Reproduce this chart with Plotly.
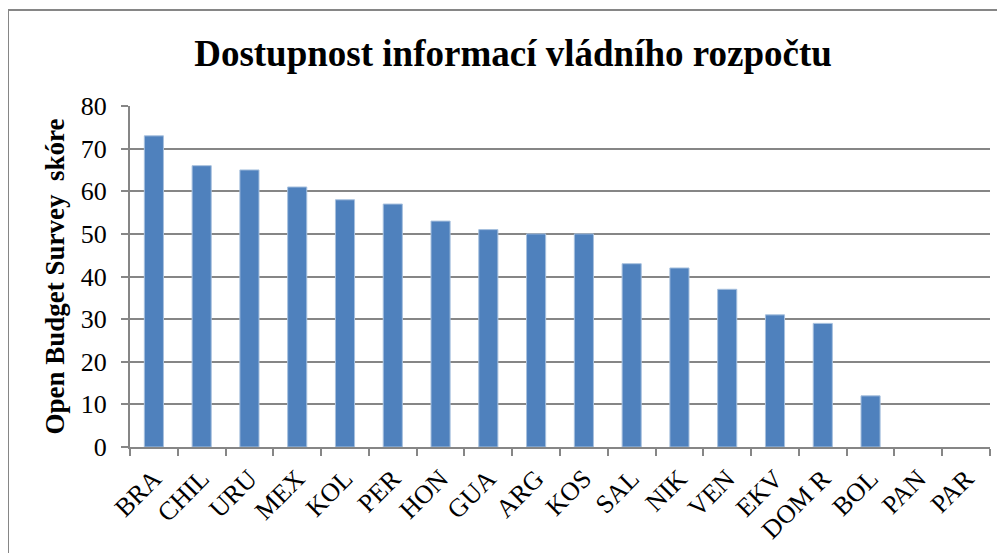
import plotly.graph_objects as go

# Open Budget Survey scores by country
countries = ["BRA", "CHIL", "URU", "MEX", "KOL", "PER", "HON", "GUA", "ARG",
             "KOS", "SAL", "NIK", "VEN", "EKV", "DOM R", "BOL", "PAN", "PAR"]
scores = [73, 66, 65, 61, 58, 57, 53, 51, 50, 50, 43, 42, 37, 31, 29, 12, 0, 0]
y_ticks = [0, 10, 20, 30, 40, 50, 60, 70, 80]

# page body has an 8px margin, so the figure is drawn 8px in from the corner
OFF = 8
W, H = 1005 - OFF, 553 - OFF
ML, MR, MT, MB = 122, 15, 98, 106
pw, ph = W - ML - MR, H - MT - MB


def px_x(x):
    # screen x -> paper coords
    return (x - OFF - ML) / pw


def px_y(y):
    # screen y -> paper coords
    return (H - MB - (y - OFF)) / ph


serif = "Liberation Serif, Times New Roman, serif"
grey = "#868686"

# no outline on empty bars, Excel draws nothing there
outline = [1 if s > 0 else 0 for s in scores]

fig = go.Figure(go.Bar(
    x=countries, y=scores,
    marker=dict(color="#4F81BD", line=dict(color="#A7C0DE", width=outline)),
))

fig.update_layout(
    width=W, height=H,
    margin=dict(l=ML, r=MR, t=MT, b=MB),
    paper_bgcolor="white", plot_bgcolor="white",
    bargap=0.6,
    showlegend=False,
    font=dict(family=serif, color="black"),
    title=dict(text="<b>Dostupnost informací vládního rozpočtu</b>",
               x=px_x(513), xref="paper", xanchor="center",
               y=1 - (53 - OFF) / H, yanchor="middle",
               font=dict(size=37, family=serif, color="black")),
)

fig.update_xaxes(
    type="category", tickson="boundaries", ticks="outside", ticklen=7,
    tickcolor=grey, tickwidth=2, showline=True, linecolor=grey, linewidth=2,
    showgrid=False, tickangle=-45, tickfont=dict(size=26, family=serif),
    ticklabelstandoff=4, automargin=False,
)
fig.update_yaxes(
    range=[0, 80], tickvals=y_ticks, ticks="outside", ticklen=7,
    tickcolor=grey, tickwidth=2, showline=True, linecolor=grey, linewidth=2,
    showgrid=True, gridcolor=grey, gridwidth=2, zeroline=False,
    tickfont=dict(size=26, family=serif), ticklabelstandoff=9,
    automargin=False,
    title=dict(text="<b>Open Budget Survey  skóre</b>", standoff=8,
               font=dict(size=27, family=serif)),
)

# outer chart frame
fig.add_shape(type="line", xref="paper", yref="paper",
              x0=px_x(8), x1=px_x(1010), y0=px_y(10), y1=px_y(10),
              line=dict(color=grey, width=2))
fig.add_shape(type="line", xref="paper", yref="paper",
              x0=px_x(8), x1=px_x(8), y0=px_y(10), y1=px_y(560),
              line=dict(color=grey, width=2))

fig.write_html("out.html")
